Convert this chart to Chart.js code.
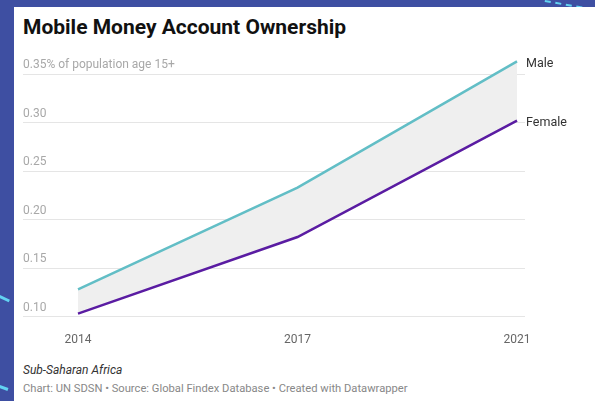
<!DOCTYPE html>
<html>
<head>
<meta charset="utf-8">
<script src="https://cdn.jsdelivr.net/npm/chart.js@4"></script>
<style>
  html, body { margin: 0; padding: 0; }
  body {
    width: 595px; height: 401px; overflow: hidden; position: relative;
    background: #3e4fa2; font-family: Roboto, "Noto Sans", sans-serif;
  }
  .deco { position: absolute; height: 0; border-top: 3px solid #62d3f2; transform-origin: 0 0; }
  .deco.dash { border-top: 2px dashed #62d3f2; }
  .card { position: absolute; left: 14px; top: 7px; right: 0; bottom: 0; background: #fff; }
  .title {
    position: absolute; left: 23px; top: 15px; margin: 0;
    font-size: 21px; font-weight: 700; color: #111;
  }
  .chart-box { position: absolute; left: 23px; top: 50px; width: 557px; height: 313px; }
  .region {
    position: absolute; left: 23px; top: 363px;
    font-size: 12px; font-style: italic; color: #333;
  }
  .source {
    position: absolute; left: 23px; top: 382px;
    font-size: 11.2px; color: #888;
  }
</style>
</head>
<body>
<div class="deco" style="left:0; top:295px; width:11px; transform:rotate(25deg);"></div>
<div class="deco" style="left:0; top:385px; width:9px; transform:rotate(20deg);"></div>
<div class="deco dash" style="left:545px; top:0; width:38px; transform:rotate(10deg);"></div>
<div class="card"></div>
<h1 class="title">Mobile Money Account Ownership</h1>
<div class="chart-box"><canvas id="ownershipChart"></canvas></div>
<div class="region">Sub-Saharan Africa</div>
<div class="source">Chart: UN SDSN • Source: Global Findex Database • Created with Datawrapper</div>

<script>
// Share of population age 15+ with a mobile money account
const years = ['2014', '2017', '2021'];
const male = [0.128, 0.233, 0.363];
const female = [0.103, 0.182, 0.302];
const yTicks = [0.10, 0.15, 0.20, 0.25, 0.30, 0.35];
const seriesNames = ['Male', 'Female'];

const toPoints = arr => arr.map((v, i) => ({ x: i, y: v }));

// writes the series name next to the last point of each line
const endLabels = {
    id: 'endLabels',
    afterDatasetsDraw(chart) {
        const ctx = chart.ctx;
        ctx.save();
        ctx.font = '12.5px Roboto, "Noto Sans", sans-serif';
        ctx.fillStyle = '#333';
        ctx.textAlign = 'left';
        ctx.textBaseline = 'middle';
        chart.data.datasets.forEach((ds, i) => {
            const pts = chart.getDatasetMeta(i).data;
            const last = pts[pts.length - 1];
            ctx.fillText(ds.label, last.x + 9, last.y + 2);
        });
        ctx.restore();
    }
};

new Chart(document.getElementById('ownershipChart'), {
    type: 'line',
    data: {
        datasets: [
            {
                label: seriesNames[0],
                data: toPoints(male),
                borderColor: '#62bec6',
                backgroundColor: '#efefef',
                borderWidth: 2.5,
                pointRadius: 0,
                fill: '+1'
            },
            {
                label: seriesNames[1],
                data: toPoints(female),
                borderColor: '#5a1ca2',
                borderWidth: 2.5,
                pointRadius: 0,
                fill: false
            }
        ]
    },
    options: {
        responsive: true,
        maintainAspectRatio: false,
        animation: false,
        layout: { padding: { top: 8, right: 55, bottom: 0, left: 0 } },
        plugins: {
            legend: { display: false },
            tooltip: { enabled: false },
            // gap shading goes under both lines
            filler: { drawTime: 'beforeDatasetsDraw' }
        },
        scales: {
            x: {
                type: 'linear',
                min: -0.2506,
                max: 2.0364,
                afterBuildTicks: axis => { axis.ticks = years.map((y, i) => ({ value: i })); },
                grid: { display: false, drawTicks: false },
                border: { display: false },
                ticks: {
                    padding: 16,
                    color: '#666',
                    font: { size: 12, family: 'Roboto' },
                    callback: v => years[v]
                }
            },
            y: {
                min: 0.10,
                max: 0.3665,
                afterBuildTicks: axis => { axis.ticks = yTicks.map(v => ({ value: v })); },
                grid: { color: '#e5e5e5', lineWidth: 1, drawTicks: false },
                border: { display: false },
                ticks: {
                    mirror: true,
                    padding: 0,
                    labelOffset: -9,
                    color: '#a8a8a8',
                    font: { size: 12, family: 'Roboto' },
                    callback: v => v === 0.35 ? '0.35% of population age 15+' : v.toFixed(2)
                }
            }
        }
    },
    plugins: [endLabels]
});
</script>
</body>
</html>
